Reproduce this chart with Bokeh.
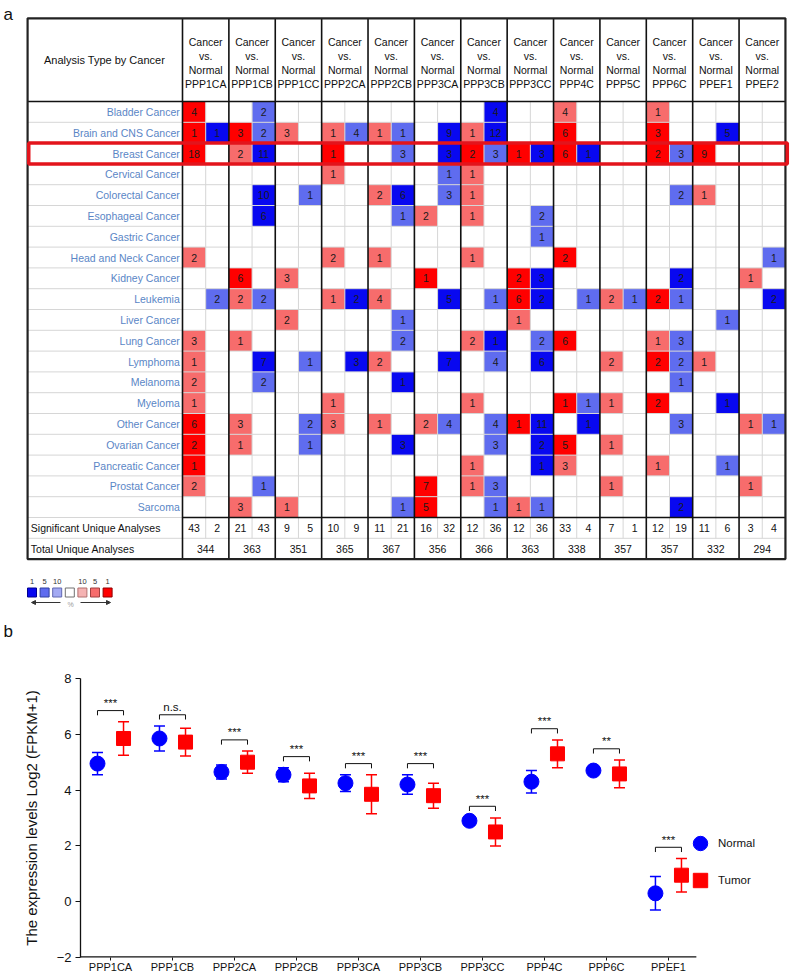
from bokeh.plotting import figure
from bokeh.models import (Range1d, ColumnDataSource, Whisker, TeeHead, Legend,
                          LegendItem, FixedTicker, Arrow, NormalHead)
from bokeh.core.properties import value
from bokeh.embed import file_html
from bokeh.resources import INLINE

FONT = "Liberation Sans"

# ---------------- panel a data ----------------
genes_a = ["PPP1CA", "PPP1CB", "PPP1CC", "PPP2CA", "PPP2CB", "PPP3CA", "PPP3CB",
           "PPP3CC", "PPP4C", "PPP5C", "PPP6C", "PPEF1", "PPEF2"]
cancers = ["Bladder Cancer", "Brain and CNS Cancer", "Breast Cancer", "Cervical Cancer",
           "Colorectal Cancer", "Esophageal Cancer", "Gastric Cancer", "Head and Neck Cancer",
           "Kidney Cancer", "Leukemia", "Liver Cancer", "Lung Cancer", "Lymphoma", "Melanoma",
           "Myeloma", "Other Cancer", "Ovarian Cancer", "Pancreatic Cancer", "Prostat Cancer",
           "Sarcoma"]
# (sub-column, number of analyses, level) ; sub-column 2*g = up (red), 2*g+1 = down (blue)
cells = [
    [(0, 4, 'R1'), (3, 2, 'B5'), (13, 4, 'B1'), (16, 4, 'R5'), (20, 1, 'R5')],
    [(0, 1, 'R1'), (1, 1, 'B1'), (2, 3, 'R1'), (3, 2, 'B5'), (4, 3, 'R5'), (6, 1, 'R5'), (7, 4, 'B5'),
     (8, 1, 'R5'), (9, 1, 'B5'), (11, 9, 'B1'), (12, 1, 'R5'), (13, 12, 'B1'), (16, 6, 'R1'),
     (20, 3, 'R1'), (23, 5, 'B1')],
    [(0, 18, 'R1'), (2, 2, 'R5'), (3, 11, 'B1'), (6, 1, 'R1'), (9, 3, 'B5'), (11, 3, 'B1'),
     (12, 2, 'R1'), (13, 3, 'B5'), (14, 1, 'R1'), (15, 3, 'B1'), (16, 6, 'R1'), (17, 1, 'B1'),
     (20, 2, 'R1'), (21, 3, 'B5'), (22, 9, 'R1')],
    [(6, 1, 'R5'), (11, 1, 'B5'), (12, 1, 'R5')],
    [(3, 10, 'B1'), (5, 1, 'B5'), (8, 2, 'R5'), (9, 6, 'B1'), (11, 3, 'B5'), (12, 1, 'R5'),
     (21, 2, 'B5'), (22, 1, 'R5')],
    [(3, 6, 'B1'), (9, 1, 'B5'), (10, 2, 'R5'), (12, 1, 'R5'), (15, 2, 'B5')],
    [(15, 1, 'B5')],
    [(0, 2, 'R5'), (6, 2, 'R5'), (8, 1, 'R5'), (12, 1, 'R5'), (16, 2, 'R1'), (25, 1, 'B5')],
    [(2, 6, 'R1'), (4, 3, 'R5'), (10, 1, 'R1'), (14, 2, 'R1'), (15, 3, 'B1'), (21, 2, 'B1'),
     (24, 1, 'R5')],
    [(1, 2, 'B5'), (2, 2, 'R5'), (3, 2, 'B5'), (6, 1, 'R5'), (7, 2, 'B1'), (8, 4, 'R5'), (11, 5, 'B1'),
     (13, 1, 'B5'), (14, 6, 'R1'), (15, 2, 'B1'), (17, 1, 'B5'), (18, 2, 'R5'), (19, 1, 'B5'),
     (20, 2, 'R1'), (21, 1, 'B5'), (25, 2, 'B1')],
    [(4, 2, 'R5'), (9, 1, 'B5'), (14, 1, 'R5'), (23, 1, 'B5')],
    [(0, 3, 'R5'), (2, 1, 'R5'), (9, 2, 'B5'), (12, 2, 'R5'), (13, 1, 'B1'), (15, 2, 'B5'),
     (16, 6, 'R1'), (20, 1, 'R5'), (21, 3, 'B5')],
    [(0, 1, 'R5'), (3, 7, 'B1'), (5, 1, 'B5'), (7, 3, 'B1'), (8, 2, 'R5'), (11, 7, 'B1'),
     (13, 4, 'B5'), (15, 6, 'B1'), (18, 2, 'R5'), (20, 2, 'R1'), (21, 2, 'B5'), (22, 1, 'R5')],
    [(0, 2, 'R5'), (3, 2, 'B5'), (9, 1, 'B1'), (21, 1, 'B5')],
    [(0, 1, 'R5'), (6, 1, 'R5'), (12, 1, 'R5'), (16, 1, 'R1'), (17, 1, 'B5'), (18, 1, 'R5'),
     (20, 2, 'R1'), (23, 1, 'B1')],
    [(0, 6, 'R1'), (2, 3, 'R5'), (5, 2, 'B5'), (6, 3, 'R5'), (8, 1, 'R5'), (10, 2, 'R5'),
     (11, 4, 'B5'), (13, 4, 'B5'), (14, 1, 'R1'), (15, 11, 'B1'), (17, 1, 'B1'), (21, 3, 'B5'),
     (24, 1, 'R5'), (25, 1, 'B5')],
    [(0, 2, 'R1'), (2, 1, 'R5'), (5, 1, 'B5'), (9, 3, 'B1'), (13, 3, 'B5'), (15, 2, 'B1'),
     (16, 5, 'R1'), (18, 1, 'R5')],
    [(0, 1, 'R1'), (12, 1, 'R5'), (15, 1, 'B1'), (16, 3, 'R5'), (20, 1, 'R5'), (23, 1, 'B5')],
    [(0, 2, 'R5'), (3, 1, 'B5'), (10, 7, 'R1'), (12, 1, 'R5'), (13, 3, 'B5'), (18, 1, 'R5'),
     (24, 1, 'R5')],
    [(2, 3, 'R5'), (4, 1, 'R5'), (9, 1, 'B5'), (10, 5, 'R1'), (13, 1, 'B5'), (14, 1, 'R5'),
     (15, 1, 'B5'), (21, 2, 'B1')],
]
sig_counts = [43, 2, 21, 43, 9, 5, 10, 9, 11, 21, 16, 32, 12, 36, 12, 36, 33, 4, 7, 1, 12, 19,
              11, 6, 3, 4]
total_counts = [344, 363, 351, 365, 367, 356, 366, 363, 338, 357, 357, 332, 294]
highlight_cancer = "Breast Cancer"
level_colors = {"R1": "#ff0000", "R5": "#f76c6c", "B1": "#0808f0", "B5": "#5f6cef"}
key_labels = ["1", "5", "10", "", "10", "5", "1"]
key_colors = ["#0808f0", "#5f6cef", "#a3aaf3", "#ffffff", "#f5b3b3", "#f76c6c", "#ff0000"]
key_borders = ["#000090", "#3040a0", "#6068b0", "#707070", "#b07070", "#a04040", "#900000"]

# ---------------- panel b data ----------------
genes_b = ["PPP1CA", "PPP1CB", "PPP2CA", "PPP2CB", "PPP3CA", "PPP3CB", "PPP3CC", "PPP4C",
           "PPP6C", "PPEF1"]
normal_mean = [4.95, 5.85, 4.65, 4.55, 4.25, 4.2, 2.9, 4.3, 4.7, 0.3]
normal_err = [0.4, 0.45, 0.25, 0.25, 0.3, 0.35, 0.12, 0.4, 0.15, 0.6]
tumor_mean = [5.85, 5.72, 5.0, 4.15, 3.85, 3.8, 2.5, 5.3, 4.58, 0.95]
tumor_err = [0.6, 0.5, 0.4, 0.45, 0.7, 0.45, 0.5, 0.5, 0.5, 0.6]
sig_marks = ["***", "n.s.", "***", "***", "***", "***", "***", "***", "**", "***"]

# ================= panel a =================
SX, SY = 23.19, 20.8          # px per sub-column / per row
X0PX, Y0PX = 182, 101         # page px of table data origin
def ux(px): return (px - X0PX) / SX
def uy(py): return (py - Y0PX) / SY

NSUB = 2 * len(genes_a)
NROW = len(cancers)
LW = 6.68                      # width of label column in sub-column units
HEAD = 4                       # header height in row units
H1 = 645

p1 = figure(width=800, height=H1, x_range=Range1d(ux(0), ux(800)),
            y_range=Range1d(uy(H1), uy(0)), output_backend="svg", toolbar_location=None,
            min_border=0, x_axis_location=None, y_axis_location=None,
            outline_line_color=None, background_fill_color="white")
p1.grid.visible = False

# cells
cx, cy, cc, ct = [], [], [], []
for r, row in enumerate(cells):
    for (c, v, lev) in row:
        cx.append(c + 0.5); cy.append(r + 0.5); cc.append(level_colors[lev]); ct.append(str(v))
csrc = ColumnDataSource(dict(x=cx, y=cy, color=cc, text=ct))
p1.rect(x='x', y='y', width=1, height=1, fill_color='color', line_color=None, source=csrc)

# thin grid lines
gx0, gy0, gx1, gy1 = [], [], [], []
for r in list(range(1, NROW)) + [NROW + 1]:
    gx0.append(-LW); gx1.append(NSUB); gy0.append(r); gy1.append(r)
gx0.append(-LW); gx1.append(0); gy0.append(NROW); gy1.append(NROW)
for c in range(1, NSUB, 2):
    gx0.append(c); gx1.append(c); gy0.append(0); gy1.append(NROW + 1)
p1.segment(x0=gx0, y0=gy0, x1=gx1, y1=gy1, line_color="#d6d6d6", line_width=1)

# cell numbers
p1.text(x='x', y='y', text='text', source=csrc, text_align='center', text_baseline='middle',
        text_font=value(FONT), text_font_size='10.5px', text_color='#1a1a1a')

# black lines
bx0, by0, bx1, by1 = [], [], [], []
for g in range(len(genes_a)):
    bx0.append(2 * g); bx1.append(2 * g); by0.append(-HEAD); by1.append(NROW + 2)
bx0 += [-LW, 0]; bx1 += [NSUB, NSUB]; by0 += [0, NROW]; by1 += [0, NROW]
p1.segment(x0=bx0, y0=by0, x1=bx1, y1=by1, line_color="#111111", line_width=1.6)
p1.quad(left=[-LW], right=[NSUB], top=[-HEAD], bottom=[NROW + 2], fill_color=None,
        line_color="#222222", line_width=2.2)

# header texts
p1.text(x=[2 * g + 1 for g in range(len(genes_a))], y=[-HEAD / 2 + 0.15] * len(genes_a),
        text=["Cancer\nvs.\nNormal\n" + g for g in genes_a], text_align='center',
        text_baseline='middle', text_font=value(FONT), text_font_size='10.5px',
        text_color='#111111', text_line_height=1.15)
p1.text(x=[ux(104)], y=[-HEAD / 2], text=["Analysis Type by Cancer"], text_align='center',
        text_baseline='middle', text_font=value(FONT), text_font_size='11px', text_color='#111111')

# row labels
p1.text(x=[-0.12] * NROW, y=[r + 0.5 for r in range(NROW)], text=cancers, text_align='right',
        text_baseline='middle', text_font=value(FONT), text_font_size='10.5px',
        text_color='#5a86c6')

# summary rows
p1.text(x=[c + 0.5 for c in range(NSUB)], y=[NROW + 0.5] * NSUB, text=[str(v) for v in sig_counts],
        text_align='center', text_baseline='middle', text_font=value(FONT),
        text_font_size='10.5px', text_color='#111111')
p1.text(x=[2 * g + 1 for g in range(len(genes_a))], y=[NROW + 1.5] * len(genes_a),
        text=[str(v) for v in total_counts], text_align='center', text_baseline='middle',
        text_font=value(FONT), text_font_size='10.5px', text_color='#111111')
p1.text(x=[-LW + 0.14] * 2, y=[NROW + 0.5, NROW + 1.5],
        text=["Significant Unique Analyses", "Total Unique Analyses"], text_align='left',
        text_baseline='middle', text_font=value(FONT), text_font_size='10.5px',
        text_color='#111111')

# highlight frame
hr = cancers.index(highlight_cancer)
p1.quad(left=[-LW + 0.05], right=[NSUB + 0.08], top=[hr], bottom=[hr + 1], fill_color=None,
        line_color="#e3141c", line_width=3.5)

# colour key
kx = [ux(31.5 + 12.6 * i) for i in range(len(key_colors))]
p1.scatter(x=kx, y=[uy(592)] * len(kx), marker='square', size=9, fill_color=key_colors,
           line_color=key_borders, line_width=1)
p1.text(x=kx, y=[uy(581)] * len(kx), text=key_labels, text_align='center',
        text_baseline='middle', text_font=value(FONT), text_font_size='7.5px', text_color='#333333')
for xs, xe in [(60, 31), (80, 110)]:
    p1.add_layout(Arrow(end=NormalHead(size=4, fill_color='#333333', line_color='#333333'),
                        x_start=ux(xs), y_start=uy(602), x_end=ux(xe), y_end=uy(602),
                        line_color='#333333', line_width=1))
p1.text(x=[ux(70)], y=[uy(604)], text=["%"], text_align='center', text_baseline='middle',
        text_font=value(FONT), text_font_size='7px', text_color='#999999')

# panel letters
p1.text(x=[ux(3), ux(3)], y=[uy(14), uy(631)], text=["a", "b"], text_align='left',
        text_baseline='alphabetic', text_font=value(FONT), text_font_size='17px',
        text_color='#111111')

# ================= panel b =================
n = len(genes_b)
OFF = 0.21
H2 = 975 - H1
p2 = figure(width=800, height=H2, x_range=Range1d(-0.484, 11.13), y_range=Range1d(-2, 8),
            output_backend="svg", toolbar_location=None, min_border_left=80,
            min_border_right=0, min_border_top=678 - H1, min_border_bottom=12,
            outline_line_color=None)
p2.grid.visible = False

xn = [i - OFF for i in range(n)]
xt = [i + OFF for i in range(n)]
srcn = ColumnDataSource(dict(x=xn, y=normal_mean,
                             lo=[m - e for m, e in zip(normal_mean, normal_err)],
                             hi=[m + e for m, e in zip(normal_mean, normal_err)]))
srct = ColumnDataSource(dict(x=xt, y=tumor_mean,
                             lo=[m - e for m, e in zip(tumor_mean, tumor_err)],
                             hi=[m + e for m, e in zip(tumor_mean, tumor_err)]))
for src, col in [(srcn, "#0000ff"), (srct, "#ff0000")]:
    w = Whisker(source=src, base='x', lower='lo', upper='hi', line_color=col, line_width=1.5,
                upper_head=TeeHead(size=11, line_color=col, line_width=1.5),
                lower_head=TeeHead(size=11, line_color=col, line_width=1.5), level='underlay')
    p2.add_layout(w)
rn = p2.scatter('x', 'y', source=srcn, marker='circle', size=15, fill_color="#0000ff",
                line_color="#0000ff")
rt = p2.scatter('x', 'y', source=srct, marker='square', size=14, fill_color="#ff0000",
                line_color="#ff0000")

# significance brackets
bxs, bys, tx, ty = [], [], [], []
for i in range(n):
    h = max(normal_mean[i] + normal_err[i], tumor_mean[i] + tumor_err[i]) + 0.4
    bxs.append([xn[i], xn[i], xt[i], xt[i]])
    bys.append([h - 0.17, h, h, h - 0.17])
    tx.append(i); ty.append(h + 0.06)
p2.multi_line(xs=bxs, ys=bys, line_color="#111111", line_width=1)
p2.text(x=tx, y=ty, text=sig_marks, text_align='center', text_baseline='bottom',
        text_font=value(FONT), text_font_size='11.5px', text_color='#111111')

# x axis line (only under the categories)
p2.segment(x0=[-0.484], y0=[-2], x1=[n - 1 + 0.45], y1=[-2], line_color="#111111", line_width=2.4)

p2.xaxis.ticker = FixedTicker(ticks=list(range(n)))
p2.xaxis.major_label_overrides = {i: g for i, g in enumerate(genes_b)}
p2.xaxis.axis_line_color = None
p2.xaxis.minor_tick_line_color = None
p2.xaxis.major_tick_out = 3
p2.xaxis.major_tick_in = 0
p2.xaxis.major_tick_line_color = "#111111"
p2.xaxis.major_label_standoff = 0
p2.xaxis.major_label_text_font = FONT
p2.xaxis.major_label_text_font_size = "11px"
p2.xaxis.major_label_text_color = "#111111"

p2.yaxis.ticker = FixedTicker(ticks=[-2, 0, 2, 4, 6, 8])
p2.yaxis.minor_tick_line_color = None
p2.yaxis.major_tick_out = 5
p2.yaxis.major_tick_in = 0
p2.yaxis.axis_line_width = 1.3
p2.yaxis.axis_line_color = "#111111"
p2.yaxis.major_tick_line_color = "#111111"
p2.yaxis.major_label_text_font = FONT
p2.yaxis.major_label_text_font_size = "13px"
p2.yaxis.major_label_text_color = "#111111"
p2.yaxis.major_label_standoff = 4
p2.yaxis.axis_label = "The expression levels Log2 (FPKM+1)"
p2.yaxis.axis_label_text_font = FONT
p2.yaxis.axis_label_text_font_size = "15px"
p2.yaxis.axis_label_text_font_style = "normal"
p2.yaxis.axis_label_text_color = "#111111"
p2.yaxis.axis_label_standoff = 14

leg = Legend(items=[LegendItem(label="Normal", renderers=[rn]),
                    LegendItem(label="Tumor", renderers=[rt])],
             location=(602, 59), glyph_width=36, glyph_height=36, spacing=1, padding=0,
             margin=0, label_standoff=0, border_line_color=None, background_fill_alpha=0,
             label_text_font=FONT, label_text_font_size="11.5px", label_text_color="#111111")
p2.add_layout(leg)

open("out.html", "w").write(file_html([p1, p2], INLINE))
